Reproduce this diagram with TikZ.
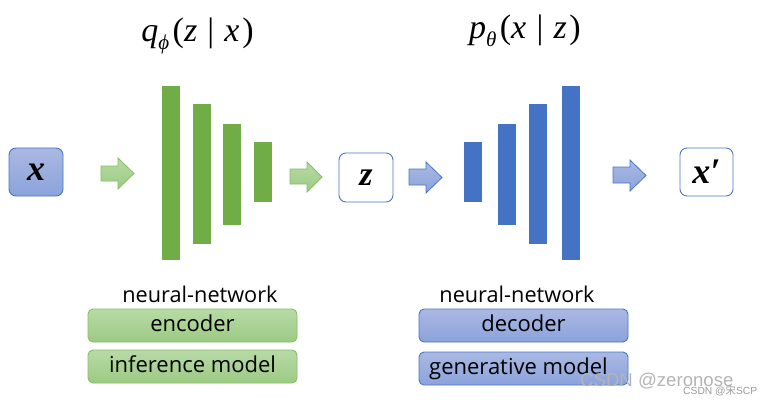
\documentclass[tikz,border=0pt]{standalone}
\usepackage{fontspec}
\setmainfont{Open Sans}
\newfontfamily\serifit{Liberation Serif}
\newfontfamily\wmfont{Liberation Sans}
\newfontfamily\cjk{Noto Sans CJK SC}
\definecolor{barGreen}{HTML}{70AD47}
\definecolor{barBlue}{HTML}{4472C4}
\definecolor{gTop}{HTML}{B8DAA6}
\definecolor{gBot}{HTML}{9CCA84}
\definecolor{gLine}{HTML}{86BF66}
\definecolor{bTop}{HTML}{AAB9E3}
\definecolor{bBot}{HTML}{8BA2DB}
\definecolor{bLine}{HTML}{4A76C6}
\definecolor{wmGray}{HTML}{B4B4B4}
\definecolor{wmGray2}{HTML}{9A9A9A}
\tikzset{
  greenbar/.style={fill=barGreen, draw=none},
  bluebar/.style={fill=barBlue, draw=none},
  garrow/.style={draw=gLine, line width=0.8pt, top color=gTop, bottom color=gBot},
  barrow/.style={draw=bLine, line width=0.8pt, top color=bTop, bottom color=bBot},
  varbox/.style={draw=bLine, line width=0.9pt, rounded corners=7pt, inner sep=0pt, fill=white},
  gbox/.style={draw=gLine, line width=0.9pt, rounded corners=5pt, inner sep=0pt, top color=gTop, bottom color=gBot,
     minimum width=209pt, minimum height=33pt, font=\fontsize{22}{22}\selectfont, text height=16pt, text depth=4pt},
  bbox/.style={draw=bLine, line width=0.9pt, rounded corners=5pt, inner sep=0pt, top color=bTop, bottom color=bBot,
     minimum width=209pt, minimum height=33pt, font=\fontsize{22}{22}\selectfont, text height=16pt, text depth=4pt},
  nnlabel/.style={anchor=base, inner sep=0pt, font=\fontsize{21.7}{21.7}\selectfont},
  varlabel/.style={font=\serifit\fontsize{36}{36}\selectfont\bfseries\itshape},
  formula/.style={anchor=base, inner sep=0pt, font=\serifit\fontsize{34}{34}\selectfont}
}
\newcommand{\blockarrow}[8]{% style, x0, xh, x1, shaft top, shaft bottom, head top, head bottom
  \path[#1] (#2,#5) -- (#3,#5) -- (#3,#7) -- (#4,{(#7+#8)/2}) -- (#3,#8) -- (#3,#6) -- (#2,#6) -- cycle;}
\begin{document}
\begin{tikzpicture}[x=1pt,y=-1pt]
\useasboundingbox (0,0) rectangle (775,406);
\fill[white] (0,0) rectangle (775,406);

% formulas
\node[formula] (qform) at (197.5,42) {\itshape q\raisebox{-0.22em}{\fontsize{21}{21}\selectfont\itshape ϕ}\hspace{0.1em}\upshape(\itshape z\hspace{0.3em}\upshape|\hspace{0.3em}\itshape x\hspace{0.08em}\upshape)};
\node[formula] (pform) at (525,39) {\itshape p\raisebox{-0.22em}{\fontsize{21}{21}\selectfont\itshape θ}\hspace{0.1em}\upshape(\itshape x\hspace{0.3em}\upshape|\hspace{0.3em}\itshape z\hspace{0.08em}\upshape)};

% input box
\node[varbox, top color=bTop, bottom color=bBot, minimum width=54pt, minimum height=48pt, varlabel] (xin) at (36,172) {x};
% latent box
\node[varbox, minimum width=54pt, minimum height=49pt, varlabel, font=\serifit\fontsize{34}{34}\selectfont\bfseries\itshape] (zlat) at (366,177.5) {z};
% output box
\node[varbox, minimum width=53pt, minimum height=48pt, varlabel] (xout) at (706.5,172) {x′};

% block arrows
\blockarrow{garrow}{101}{118}{134}{166}{181}{158}{189}
\blockarrow{garrow}{290}{307}{322}{169}{184}{162}{192}
\blockarrow{barrow}{409}{426}{442}{169}{185}{162}{193}
\blockarrow{barrow}{613}{630}{646}{167}{183}{160}{191}

% encoder bars
\path[greenbar] (162,86) rectangle (180,260);
\path[greenbar] (193,104) rectangle (211,244);
\path[greenbar] (223,124) rectangle (241,225);
\path[greenbar] (254,142) rectangle (272,202);
% decoder bars
\path[bluebar] (464,142) rectangle (482,202);
\path[bluebar] (498,124) rectangle (516,225);
\path[bluebar] (529,104) rectangle (547,244);
\path[bluebar] (562,86) rectangle (580,260);

% labels
\node[nnlabel] (nnenc) at (200,302) {neural-network};
\node[gbox] (enc) at (192.5,325.5) {encoder};
\node[gbox] (inf) at (192.5,366.5) {inference model};
\node[nnlabel] (nndec) at (517,302) {neural-network};
\node[bbox] (dec) at (523.5,325.5) {decoder};
\node[bbox] (gen) at (523.5,368.5) {\hspace{-10pt}generative model};

% watermark
\node[anchor=base west, inner sep=0pt, text=wmGray, font=\wmfont\fontsize{18.6}{18.6}\selectfont] (wm1) at (580,386) {CSDN @zeronose};
\node[anchor=base west, inner sep=0pt, text=wmGray2, font=\wmfont\fontsize{10.3}{10.3}\selectfont] (wm2) at (683,394.5) {CSDN @{\cjk 宋}SCP};
\end{tikzpicture}
\end{document}
